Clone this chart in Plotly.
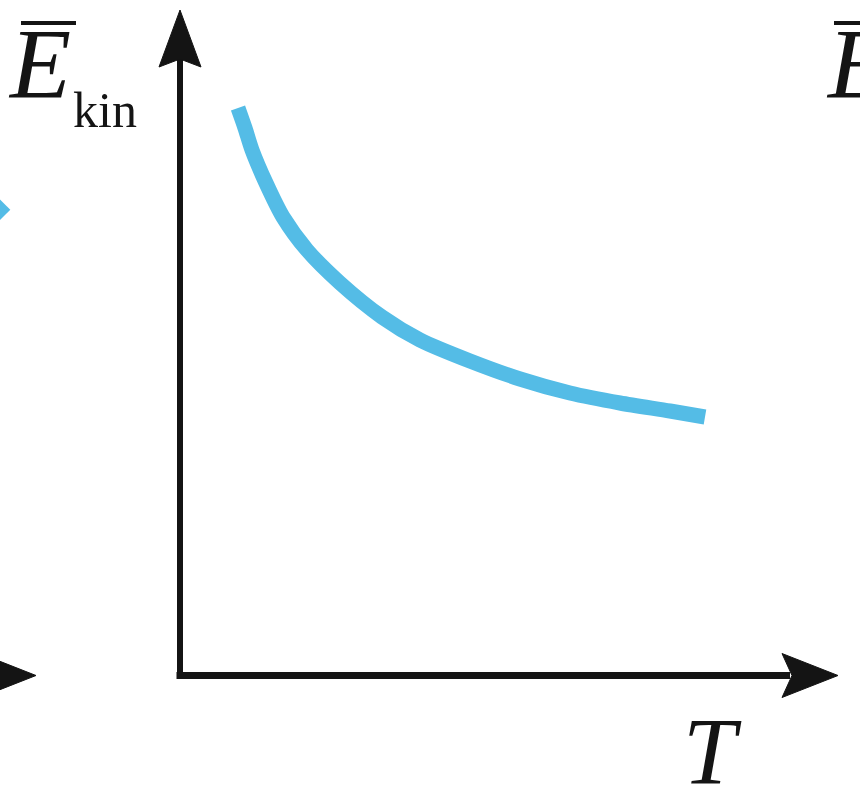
import plotly.graph_objects as go

# mean kinetic energy vs temperature (arbitrary units)
T = [0.58, 0.65, 0.72, 0.86, 1.03, 1.27, 1.60, 2.02, 2.40, 2.90, 3.40, 3.90, 4.40, 4.90, 5.25]
E_kin = [5.67, 5.47, 5.25, 4.92, 4.58, 4.25, 3.92, 3.58, 3.35, 3.14, 2.96, 2.82, 2.72, 2.64, 2.58]

# bit of the neighbouring panel's curve cut off at the left edge
T_left = [-1.95, -1.75]
E_left = [4.80, 4.60]

blue = '#54bce6'
ink = '#141414'
serif = 'Liberation Serif'

fig = go.Figure()

fig.add_trace(go.Scatter(x=T, y=E_kin, mode='lines',
                         line=dict(color=blue, width=15, shape='spline', smoothing=0.8),
                         hoverinfo='skip', showlegend=False))
fig.add_trace(go.Scatter(x=T_left, y=E_left, mode='lines',
                         line=dict(color=blue, width=15),
                         hoverinfo='skip', showlegend=False))

# axes
fig.add_shape(type='line', x0=0, y0=-0.035, x1=0, y1=6.2, line=dict(color=ink, width=6))
fig.add_shape(type='line', x0=-0.035, y0=-0.005, x1=6.1, y1=-0.005, line=dict(color=ink, width=7))

def head(tip_x, tip_y, direction):
    # notched arrowhead
    if direction == 'up':
        p = [(tip_x, tip_y), (tip_x + 0.21, tip_y - 0.57), (tip_x, tip_y - 0.49), (tip_x - 0.21, tip_y - 0.57)]
    else:
        p = [(tip_x, tip_y), (tip_x - 0.56, tip_y - 0.22), (tip_x - 0.46, tip_y), (tip_x - 0.56, tip_y + 0.22)]
    path = 'M ' + ' L '.join(f'{a},{b}' for a, b in p) + ' Z'
    fig.add_shape(type='path', path=path, fillcolor=ink, line=dict(color=ink, width=1))

head(0, 6.65, 'up')
head(6.58, -0.005, 'right')
head(-1.44, -0.005, 'right')

# axis labels
fig.add_annotation(x=-1.74, y=5.54, text='<i>E</i>', showarrow=False, xanchor='left', yanchor='bottom',
                   font=dict(family=serif, size=100, color=ink))
fig.add_annotation(x=-1.09, y=5.35, text='kin', showarrow=False, xanchor='left', yanchor='bottom',
                   font=dict(family=serif, size=50, color=ink))
fig.add_shape(type='line', x0=-1.59, y0=6.52, x1=-1.04, y1=6.52, line=dict(color=ink, width=4))

# label of the next panel, cut off by the right edge as in the original
fig.add_annotation(x=6.44, y=5.54, text='<i>E</i>', showarrow=False, xanchor='left', yanchor='bottom',
                   font=dict(family=serif, size=100, color=ink))
fig.add_shape(type='line', x0=6.54, y0=6.52, x1=6.9, y1=6.52, line=dict(color=ink, width=4))

fig.add_annotation(x=5.01, y=-1.32, text='<i>T</i>', showarrow=False, xanchor='left', yanchor='bottom',
                   font=dict(family=serif, size=95, color=ink))

fig.update_xaxes(range=[-1.8, 6.8], visible=False, fixedrange=True)
fig.update_yaxes(range=[-1.33, 6.75], visible=False, fixedrange=True)
fig.update_layout(width=860, height=808, margin=dict(l=0, r=0, t=0, b=0),
                  plot_bgcolor='white', paper_bgcolor='white', showlegend=False)

fig.write_html('out.html', config={'displayModeBar': False},
               post_script="document.body.style.margin='0';document.body.style.overflow='hidden';")
